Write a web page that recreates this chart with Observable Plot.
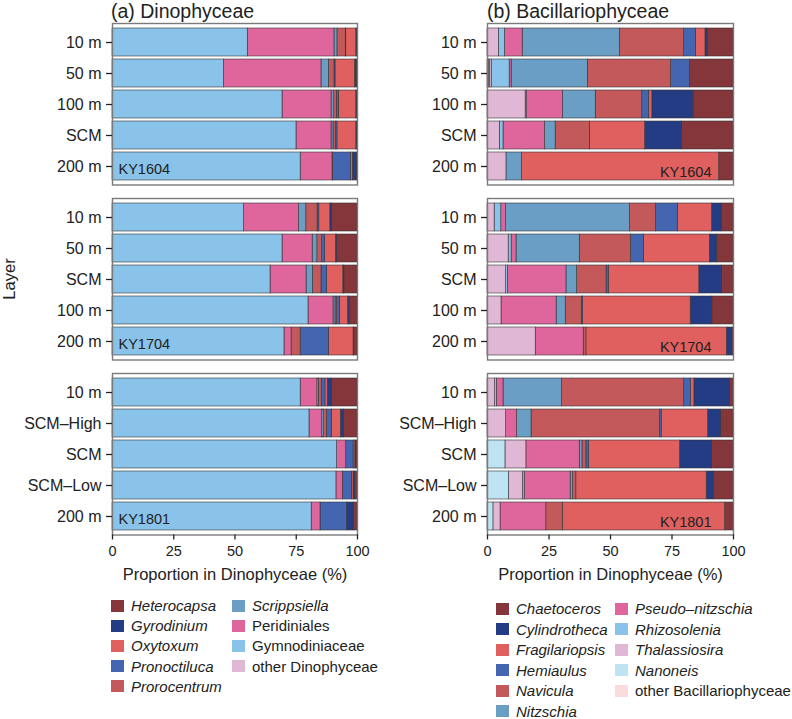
<!DOCTYPE html>
<html><head><meta charset="utf-8">
<script src="https://cdn.jsdelivr.net/npm/d3@7"></script>
<script src="https://cdn.jsdelivr.net/npm/@observablehq/plot@0.6"></script>
<style>
body{margin:0;background:#fff;font-family:"Liberation Sans",Arial,Helvetica,sans-serif;color:#222;}
#root{position:relative;width:792px;height:719px;overflow:hidden;}
.abs{position:absolute;}
.title{position:absolute;font-size:19.5px;line-height:normal;white-space:nowrap;}
.row{position:absolute;display:flex;align-items:center;height:20px;font-size:15px;white-space:nowrap;}
.sw{width:13px;height:12px;flex:none;}
</style></head><body><div id="root"></div>
<script>
// ---------- categories ----------
const dinoTaxa = ["Heterocapsa","Gyrodinium","Oxytoxum","Pronoctiluca","Prorocentrum","Scrippsiella","Peridiniales","Gymnodiniaceae","other Dinophyceae"];
const dinoItalic = [true,true,true,true,true,true,false,false,false];
const dinoColors = ["#84363a","#233c84","#e05f5f","#4466b0","#c4595c","#6a9ec4","#de669c","#89c3ea","#e0b8d6"];
const bacTaxa = ["Chaetoceros","Cylindrotheca","Fragilariopsis","Hemiaulus","Navicula","Nitzschia","Pseudo–nitzschia","Rhizosolenia","Thalassiosira","Nanoneis","other Bacillariophyceae"];
const bacItalic = [true,true,true,true,true,true,true,true,true,true,false];
const bacColors = ["#84363a","#233c84","#e05f5f","#4466b0","#c4595c","#6a9ec4","#de669c","#89c3ea","#e0b8d6","#bee3f2","#fadcdc"];

const cruises = ["KY1604","KY1704","KY1801"];
const layersKY1604 = ["10 m","50 m","100 m","SCM","200 m"];
const layersKY1704 = ["10 m","50 m","SCM","100 m","200 m"];
const layersKY1801 = ["10 m","SCM–High","SCM","SCM–Low","200 m"];
const xTicks = [0,25,50,75,100];
const xTitle = "Proportion in Dinophyceae (%)";

// ---------- values (%), rows = taxa in legend order, columns = layers ----------
const dinoKY1604 = [
  [0.2, 0.3, 0.3, 0.2, 0.3],
  [0.3, 0.7, 0.2, 0.3, 1.6],
  [4.1, 8.0, 7.1, 7.7, 0.8],
  [0.2, 0.4, 0.8, 0.6, 7.3],
  [3.4, 2.3, 1.1, 1.0, 0.2],
  [1.2, 3.0, 1.1, 0.8, 0],
  [35.4, 39.8, 20.0, 14.3, 13.0],
  [55.2, 45.5, 69.4, 75.1, 76.8],
  [0, 0, 0, 0, 0]
];
const dinoKY1704 = [
  [10.5, 8.3, 5.4, 3.3, 1.4],
  [0.6, 0.5, 0.4, 0.5, 0.2],
  [4.5, 4.4, 6.6, 3.4, 10.1],
  [0.7, 1.2, 2.3, 1.1, 11.5],
  [4.6, 2.0, 3.5, 0.7, 3.7],
  [3.0, 1.9, 2.6, 0.8, 0],
  [22.4, 12.3, 14.7, 10.2, 2.9],
  [53.7, 69.4, 64.5, 80.0, 70.2],
  [0, 0, 0, 0, 0]
];
const dinoKY1801 = [
  [10.5, 5.6, 0.5, 1.0, 1.6],
  [1.6, 1.2, 0.4, 0.6, 2.7],
  [1.0, 3.7, 0.7, 0.7, 0],
  [1.5, 1.9, 3.0, 3.7, 10.8],
  [1.2, 1.2, 0, 0, 0],
  [0.6, 0.8, 0, 0, 0],
  [6.8, 5.2, 3.7, 2.6, 3.6],
  [76.8, 80.4, 91.7, 91.4, 81.3],
  [0, 0, 0, 0, 0]
];
const bacKY1604 = [
  [10.6, 17.7, 16.3, 20.9, 5.8],
  [0.8, 0, 16.7, 15.0, 0],
  [3.8, 0, 1.4, 22.5, 80.2],
  [4.9, 7.7, 2.7, 0, 0],
  [26.1, 33.8, 18.9, 13.9, 0],
  [39.5, 31.0, 13.3, 4.3, 6.3],
  [7.2, 0.8, 14.8, 16.9, 0],
  [2.5, 7.3, 0.4, 1.5, 0],
  [4.6, 0.8, 15.5, 5.0, 7.7],
  [0, 0.3, 0, 0, 0],
  [0, 0.6, 0, 0, 0]
];
const bacKY1704 = [
  [4.8, 6.7, 4.6, 8.6, 0.5],
  [3.9, 2.9, 9.3, 8.8, 2.2],
  [13.9, 26.8, 36.8, 43.7, 57.1],
  [8.9, 5.3, 0.9, 0.6, 0],
  [10.6, 20.8, 12.0, 6.5, 1.1],
  [50.3, 25.7, 4.3, 3.7, 0],
  [2.0, 2.0, 23.8, 22.4, 19.5],
  [2.7, 1.2, 0.7, 0, 0],
  [2.9, 8.6, 7.6, 5.7, 19.6],
  [0, 0, 0, 0, 0],
  [0, 0, 0, 0, 0]
];
const bacKY1801 = [
  [1.4, 5.0, 8.8, 7.9, 3.4],
  [14.5, 5.3, 12.9, 3.0, 0],
  [1.4, 18.9, 37.0, 53.0, 66.0],
  [2.8, 0.7, 1.1, 0, 0],
  [49.6, 52.2, 1.6, 1.3, 6.7],
  [23.8, 5.9, 1.1, 1.0, 0],
  [2.7, 4.4, 21.7, 18.7, 18.6],
  [0.7, 0, 0, 0.7, 0],
  [3.1, 7.6, 8.5, 5.7, 2.9],
  [0, 0, 7.3, 8.7, 2.4],
  [0, 0, 0, 0, 0]
];

// ---------- drawing ----------
const root = document.getElementById("root");
const FONT = "Liberation Sans, Arial, Helvetica, sans-serif";
const panelH = 161.5;
const rowTops = [23, 197.5, 372.5];
const colLefts = [0, 376];
const colMarginLeft = [112, 111];

function panel(col, row, taxa, colors, layers, matrix, cruise) {
  const data = [];
  taxa.forEach((t, i) => layers.forEach((l, j) => {
    const v = matrix[i][j];
    if (v > 0) data.push({taxon: t, layer: l, value: v});
  }));
  const bottom = row === 2;
  const mt = 4, mb = bottom ? 52 : 4;
  const marks = [
    Plot.barX(data, Plot.stackX({
      x: "value", y: "layer", fill: "taxon",
      order: taxa.slice().reverse(),
      stroke: "#333", strokeWidth: 0.6
    })),
    Plot.frame({stroke: "#7a7a7a", strokeWidth: 1.4}),
    Plot.axisY({tickSize: 6, tickPadding: 5, fontSize: 16, color: "#222", strokeWidth: 1.3, label: null}),
    Plot.text([cruise], {
      text: d => d,
      frameAnchor: col === 0 ? "bottom-left" : "bottom-right",
      dx: col === 0 ? 6 : -22, dy: col === 0 ? -16 : -12.5,
      lineAnchor: "middle", fontSize: 14.5, fill: "#222"
    })
  ];
  if (bottom) {
    marks.push(Plot.axisX({ticks: xTicks, tickSize: 5, tickPadding: 6, fontSize: 14.5, color: "#222", strokeWidth: 1.3, label: null}));
    marks.push(Plot.text([xTitle], {text: d => d, frameAnchor: "bottom", dy: 40, lineAnchor: "middle", fontSize: 16.5, fill: "#222"}));
  }
  const svg = Plot.plot({
    width: 365,
    height: mt + panelH + mb,
    marginLeft: colMarginLeft[col], marginRight: 8, marginTop: mt, marginBottom: mb,
    style: {fontFamily: FONT, background: "transparent", overflow: "visible"},
    x: bottom ? {domain: [0, 100]} : {domain: [0, 100], axis: null},
    y: {domain: layers, paddingInner: 0.09, paddingOuter: 0.13},
    color: {domain: taxa, range: colors},
    marks
  });
  svg.style.position = "absolute";
  svg.style.left = colLefts[col] + "px";
  svg.style.top = (rowTops[row] - mt) + "px";
  root.appendChild(svg);
}

const layerSets = [layersKY1604, layersKY1704, layersKY1801];
const dinoSets = [dinoKY1604, dinoKY1704, dinoKY1801];
const bacSets = [bacKY1604, bacKY1704, bacKY1801];
cruises.forEach((c, r) => {
  panel(0, r, dinoTaxa, dinoColors, layerSets[r], dinoSets[r], c);
  panel(1, r, bacTaxa, bacColors, layerSets[r], bacSets[r], c);
});

// titles
function addDiv(cls, text, css) {
  const d = document.createElement("div");
  d.className = cls; d.textContent = text;
  Object.assign(d.style, css);
  root.appendChild(d);
  return d;
}
addDiv("title", "(a) Dinophyceae", {left: "111px", top: "0px"});
addDiv("title", "(b) Bacillariophyceae", {left: "487px", top: "0px"});
addDiv("abs", "Layer", {left: "9px", top: "279px", fontSize: "16.5px", transform: "translate(-50%,-50%) rotate(-90deg)", whiteSpace: "nowrap"});

// legends
function legend(taxa, colors, italic, x1, x2, gap, y0, dy, n1) {
  taxa.forEach((t, i) => {
    const c = i < n1 ? 0 : 1, k = i < n1 ? i : i - n1;
    const row = document.createElement("div");
    row.className = "row";
    row.style.left = (c === 0 ? x1 : x2) + "px";
    row.style.top = (y0 + k * dy - 10) + "px";
    const sw = document.createElement("div");
    sw.className = "sw"; sw.style.background = colors[i]; sw.style.marginRight = gap + "px";
    const tx = document.createElement("span");
    tx.textContent = t; if (italic[i]) tx.style.fontStyle = "italic";
    row.appendChild(sw); row.appendChild(tx);
    root.appendChild(row);
  });
}
legend(dinoTaxa, dinoColors, dinoItalic, 111, 232, 7, 605.5, 20.2, 5);
legend(bacTaxa, bacColors, bacItalic, 496, 615, 7, 608.8, 20.5, 6);
</script></body></html>
